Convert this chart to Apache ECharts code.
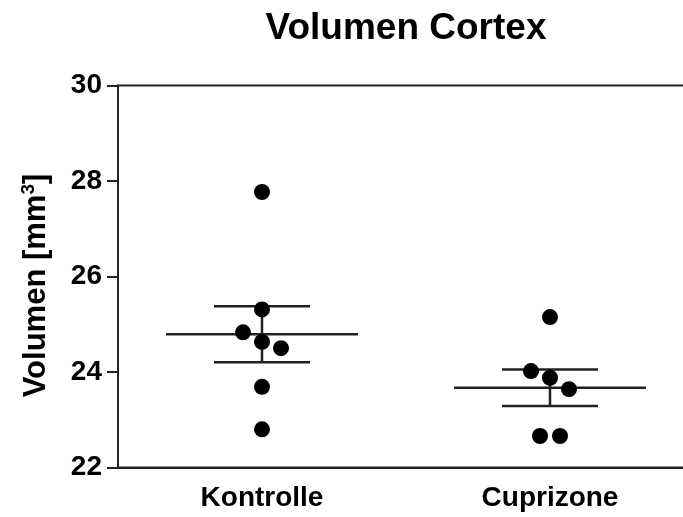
<!DOCTYPE html>
<html>
<head>
<meta charset="utf-8">
<script src="https://cdn.jsdelivr.net/npm/echarts@6/dist/echarts.min.js"></script>
<style>
html,body{margin:0;padding:0;background:#fff;overflow:hidden;}
#chart{width:683px;height:517px;}
</style>
</head>
<body>
<div id="chart"></div>
<script>
// ---- data ----
const categories = ['Kontrolle', 'Cuprizone'];
const kontrolleValues = [27.77, 25.31, 24.83, 24.63, 24.50, 23.69, 22.80];
const cuprizoneValues = [25.15, 24.02, 23.88, 23.64, 22.66, 22.66];
const yTicks = [22, 24, 26, 28, 30];

// ---- layout (jitter of each dot, in px) ----
const kontrolleJitter = [0, 0, -19, 0, 19, 0, 0];
const cuprizoneJitter = [0, -19, 0, 19, -10, 10];

function stats(arr) {
  const n = arr.length;
  const m = arr.reduce((a, b) => a + b, 0) / n;
  const sd = Math.sqrt(arr.reduce((a, b) => a + (b - m) * (b - m), 0) / (n - 1));
  return { mean: m, sem: sd / Math.sqrt(n) };
}
const groups = [kontrolleValues, cuprizoneValues];
const jitters = [kontrolleJitter, cuprizoneJitter];
const summary = groups.map((g, i) => { const s = stats(g); return [i, s.mean, s.mean + s.sem, s.mean - s.sem]; });

const scatterData = [];
groups.forEach((g, i) => g.forEach((v, j) => {
  scatterData.push({ value: [i, v], symbolOffset: [jitters[i][j], 0] });
}));

const FONT = 'Liberation Sans, Arial, sans-serif';
const lineColor = '#222';
const chart = echarts.init(document.getElementById('chart'), null, { renderer: 'canvas' });
chart.setOption({
  animation: false,
  backgroundColor: '#fff',
  title: {
    text: 'Volumen Cortex',
    left: 401, top: 5, textAlign: 'center',
    textStyle: { fontFamily: FONT, fontWeight: 'bold', fontSize: 37, color: '#000' }
  },
  grid: {
    left: 118, top: 85.5, width: 576, bottom: 49.5,
    outerBoundsMode: 'none', containLabel: false,
    show: true, borderColor: lineColor, borderWidth: 2, backgroundColor: 'transparent'
  },
  xAxis: {
    type: 'category', data: categories, boundaryGap: true,
    axisLine: { lineStyle: { color: lineColor, width: 2 } },
    axisTick: { alignWithLabel: true, length: 11, lineStyle: { color: lineColor, width: 2 } },
    axisLabel: { margin: 17, color: '#000', fontFamily: FONT, fontWeight: 'bold', fontSize: 28 },
    splitLine: { show: false }
  },
  yAxis: {
    type: 'value', min: yTicks[0], max: yTicks[yTicks.length - 1], interval: 2,
    name: '{a|Volumen [mm}{s|3}{a|]}', nameLocation: 'middle', nameRotate: 90, nameGap: 64,
    nameTextStyle: {
      padding: [0, 18, 0, 0],
      rich: {
        a: { fontFamily: FONT, fontWeight: 'bold', fontSize: 31, color: '#000' },
        s: { fontFamily: FONT, fontWeight: 'bold', fontSize: 19, color: '#000', padding: [0, 0, 16, 0] }
      }
    },
    axisLine: { show: true, lineStyle: { color: lineColor, width: 2 } },
    axisTick: { show: true, length: 11, lineStyle: { color: lineColor, width: 2 } },
    axisLabel: { margin: 16, color: '#000', fontFamily: FONT, fontWeight: 'bold', fontSize: 28 },
    splitLine: { show: false }
  },
  series: [
    {
      type: 'custom',
      data: summary,
      z: 2,
      renderItem: function (params, api) {
        const band = api.size([1, 0])[0];
        const c = api.coord([api.value(0), api.value(1)]);
        const hi = api.coord([api.value(0), api.value(2)]);
        const lo = api.coord([api.value(0), api.value(3)]);
        const mw = band / 3, cw = band / 6;
        const st = { stroke: lineColor, lineWidth: 2.5 };
        return {
          type: 'group',
          children: [
            { type: 'line', shape: { x1: c[0] - mw, y1: c[1], x2: c[0] + mw, y2: c[1] }, style: st },
            { type: 'line', shape: { x1: c[0], y1: hi[1], x2: c[0], y2: lo[1] }, style: st },
            { type: 'line', shape: { x1: c[0] - cw, y1: hi[1], x2: c[0] + cw, y2: hi[1] }, style: st },
            { type: 'line', shape: { x1: c[0] - cw, y1: lo[1], x2: c[0] + cw, y2: lo[1] }, style: st }
          ]
        };
      }
    },
    {
      type: 'scatter',
      data: scatterData,
      z: 3,
      symbol: 'circle',
      symbolSize: 16,
      itemStyle: { color: '#000', opacity: 1 }
    }
  ]
});
</script>
</body>
</html>
